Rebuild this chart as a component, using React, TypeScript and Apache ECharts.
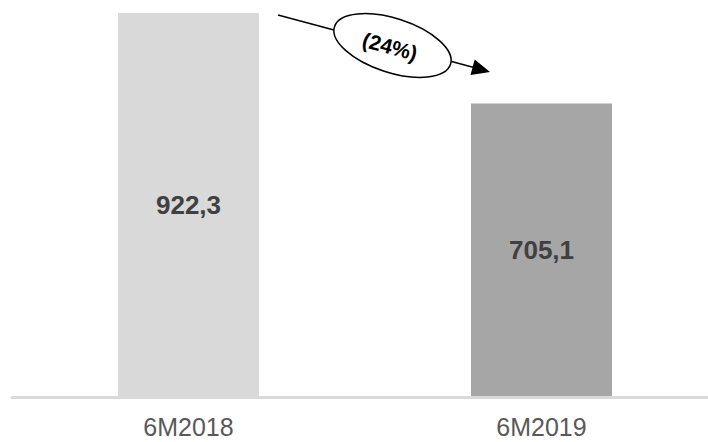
import React, { useEffect, useRef } from "react";
import * as echarts from "echarts";

const categories = ["6M2018", "6M2019"];
const values = [922.3, 705.1];
const barColors = ["#d9d9d9", "#a6a6a6"];
const changeLabel = "(24%)";

export default function App() {
  const ref = useRef<HTMLDivElement>(null);
  useEffect(() => {
    if (!ref.current) return;
    const chart = echarts.init(ref.current, undefined, { renderer: "svg" });
    const font = "'Liberation Sans', Arial, sans-serif";
    chart.setOption({
      animation: false,
      backgroundColor: "#ffffff",
      grid: {
        left: 12,
        width: 706,
        top: 13,
        bottom: 45,
        containLabel: false,
        outerBoundsMode: "none",
      },
      xAxis: {
        type: "category",
        data: categories,
        z: 10,
        axisLine: { show: true, lineStyle: { color: "#d9d9d9", width: 3 } },
        axisTick: { show: false },
        axisLabel: { color: "#595959", fontSize: 25, fontFamily: font, margin: 17 },
      },
      yAxis: {
        type: "value",
        min: 0,
        max: 922.3,
        show: false,
        splitLine: { show: false },
      },
      series: [
        {
          type: "bar",
          barWidth: 141,
          data: values.map((v, i) => ({ value: v, itemStyle: { color: barColors[i] } })),
          label: {
            show: true,
            position: "inside",
            color: "#404040",
            fontWeight: "bold",
            fontSize: 26,
            fontFamily: font,
            formatter: (p: any) => Number(p.value).toFixed(1).replace(".", ","),
          },
        },
      ],
      graphic: [
        {
          type: "line",
          shape: { x1: 278, y1: 15, x2: 473, y2: 67.3 },
          style: { stroke: "#000", lineWidth: 1.5 },
          z: 20,
        },
        {
          type: "polygon",
          shape: { points: [[490, 72], [474.7, 59.6], [470.5, 75]] },
          style: { fill: "#000" },
          z: 20,
        },
        {
          type: "ellipse",
          x: 392.5,
          y: 45.5,
          rotation: (-18 * Math.PI) / 180,
          shape: { cx: 0, cy: 0, rx: 61, ry: 27 },
          style: { fill: "#fff", stroke: "#000", lineWidth: 1.5 },
          z: 21,
        },
        {
          type: "text",
          x: 390,
          y: 46.5,
          rotation: (-15 * Math.PI) / 180,
          style: {
            text: changeLabel,
            fill: "#000",
            font: `bold 21px ${font}`,
            textAlign: "center",
            textVerticalAlign: "middle",
          },
          z: 22,
        },
      ],
    });
    return () => chart.dispose();
  }, []);
  return (
    <div
      ref={ref}
      style={{ position: "fixed", left: 0, top: 0, width: 708, height: 442 }}
    />
  );
}
